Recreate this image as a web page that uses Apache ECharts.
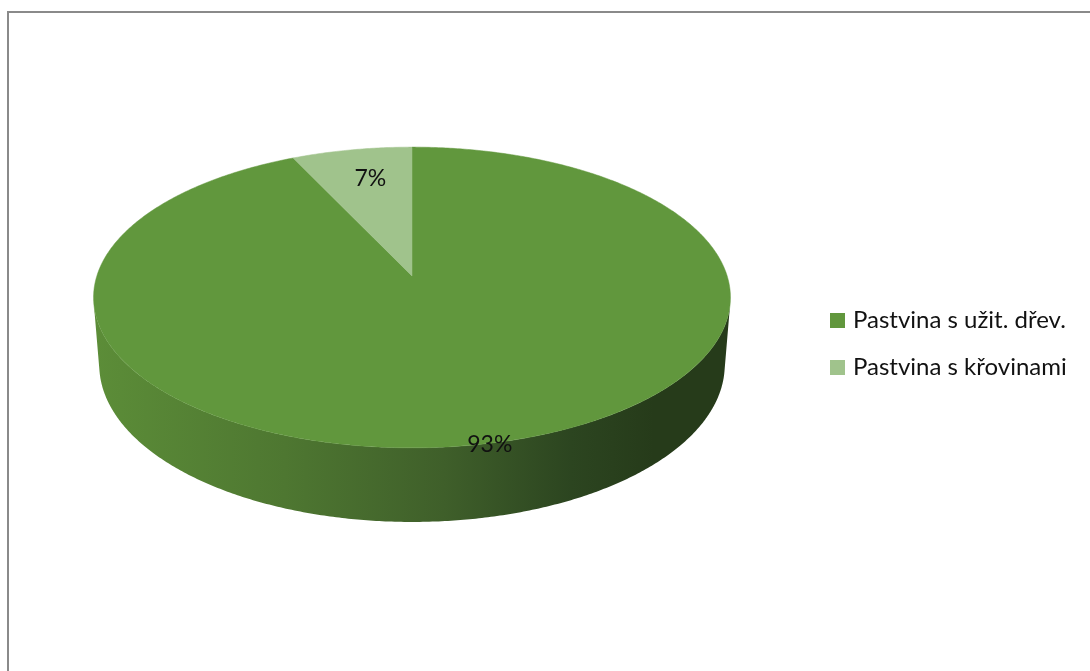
<!DOCTYPE html>
<html>
<head>
<meta charset="utf-8">
<script src="https://cdn.jsdelivr.net/npm/echarts@6/dist/echarts.min.js"></script>
<style>
html,body{margin:0;padding:0;background:#fff;}
#chart{width:1090px;height:671px;}
</style>
</head>
<body>
<div id="chart"></div>
<script>
// ---- data ----
const CATEGORIES = ['Pastvina s užit. dřev.', 'Pastvina s křovinami'];
const VALUES = [93, 7];

// ---- style / layout ----
const TOP_COLORS = ['#61973D', '#A0C38C'];
const WALL_STOPS = [
  [['#5C8D38', 0], ['#4E7731', 0.3], ['#3F5F2A', 0.55], ['#2C4520', 0.75], ['#263B1A', 0.88], ['#263B1A', 1]],
  [['#8DAE79', 0], ['#6F8F5E', 0.5], ['#4F6A42', 1]]
];
const LABEL_RADIUS = [1.01, 0.75];
const FONT = 'Lato, "Noto Sans", sans-serif';

const CX = 412, CY = 276;       // screen position of pie centre
const F = 1981;                  // focal scale (px per radius unit)
const FX = F * 0.988;            // horizontal focal scale
const D = 6.21;                  // camera distance (radius units)
const ALPHA = 27.5 * Math.PI / 180; // elevation
const H = 0.24;                  // thickness (radius units)

function project(phiDeg, r, y) {
  const p = phiDeg * Math.PI / 180;
  const X = r * Math.sin(p);
  const Z = -r * Math.cos(p);
  const yc = y * Math.cos(ALPHA) - Z * Math.sin(ALPHA);
  const depth = D - Z * Math.cos(ALPHA) - y * Math.sin(ALPHA);
  return [CX + FX * X / depth, CY - F * yc / depth];
}

const total = VALUES.reduce((a, b) => a + b, 0);
function sliceAngles(i) {
  let s = 0;
  for (let k = 0; k < i; k++) s += VALUES[k];
  return [s / total * 360, (s + VALUES[i]) / total * 360];
}
// visible range of the outer wall (silhouette tangents)
const VIS = Math.acos(-1 / (D * Math.cos(ALPHA))) * 180 / Math.PI;
const VIS_A = VIS, VIS_B = 360 - VIS;

function arc(a, b, r, y) {
  const pts = [];
  const n = Math.max(2, Math.ceil(Math.abs(b - a) / 0.5));
  for (let k = 0; k <= n; k++) pts.push(project(a + (b - a) * k / n, r, y));
  return pts;
}

function wallRender(params, api) {
  const i = params.dataIndex;
  const [s, e] = sliceAngles(i);
  const a = Math.max(s, VIS_A), b = Math.min(e, VIS_B);
  if (b <= a) return { type: 'group', children: [] };
  const top = arc(a, b, 1, 0);
  const bot = arc(b, a, 1, -H);
  const pts = top.concat(bot);
  return {
    type: 'polygon',
    shape: { points: pts },
    style: {
      fill: new echarts.graphic.LinearGradient(0, 0, 1, 0,
        WALL_STOPS[i].map(([c, o]) => ({ offset: o, color: c }))),
      stroke: null
    }
  };
}

function topRender(i) {
  return function (params, api) {
    const v = api.value(0);
    const [s, e] = sliceAngles(i);
    const pts = [project(0, 0, 0)].concat(arc(s, e, 1, 0));
    const mid = (s + e) / 2;
    const lp = project(mid, LABEL_RADIUS[i], 0);
    return {
      type: 'group',
      children: [
        { type: 'polygon', shape: { points: pts }, style: { fill: TOP_COLORS[i], stroke: TOP_COLORS[i], lineWidth: 0.5 } },
        { type: 'text', z2: 10, style: {
            text: Math.round(v / total * 100) + '%',
            x: lp[0] + (i === 1 ? 5 : -3), y: lp[1], align: 'center', verticalAlign: 'middle',
            font: '23px ' + FONT, fill: '#111' } }
      ]
    };
  };
}

const series = [{
  type: 'custom', name: 'wall', coordinateSystem: 'none', z: 1, silent: true,
  data: VALUES.map(v => [v]), renderItem: wallRender
}];
CATEGORIES.forEach((c, i) => {
  series.push({
    type: 'custom', name: c, coordinateSystem: 'none', z: 2, silent: true,
    itemStyle: { color: TOP_COLORS[i] },
    data: [[VALUES[i]]], renderItem: topRender(i)
  });
});

const chart = echarts.init(document.getElementById('chart'), null, { renderer: 'canvas' });
chart.setOption({
  animation: false,
  backgroundColor: '#fff',
  graphic: [{
    type: 'rect', shape: { x: 8, y: 12, width: 1100, height: 700 },
    style: { fill: null, stroke: '#8A8A8A', lineWidth: 2 }, silent: true, z: 0
  }],
  legend: {
    data: CATEGORIES,
    orient: 'vertical',
    left: 830, top: 307.5,
    padding: 0,
    itemWidth: 15, itemHeight: 15, itemGap: 21,
    icon: 'rect',
    selectedMode: false,
    textStyle: { fontFamily: FONT, fontSize: 24, color: '#111', lineHeight: 26, padding: [0, 0, 0, 3] }
  },
  series: series
});
</script>
</body>
</html>
